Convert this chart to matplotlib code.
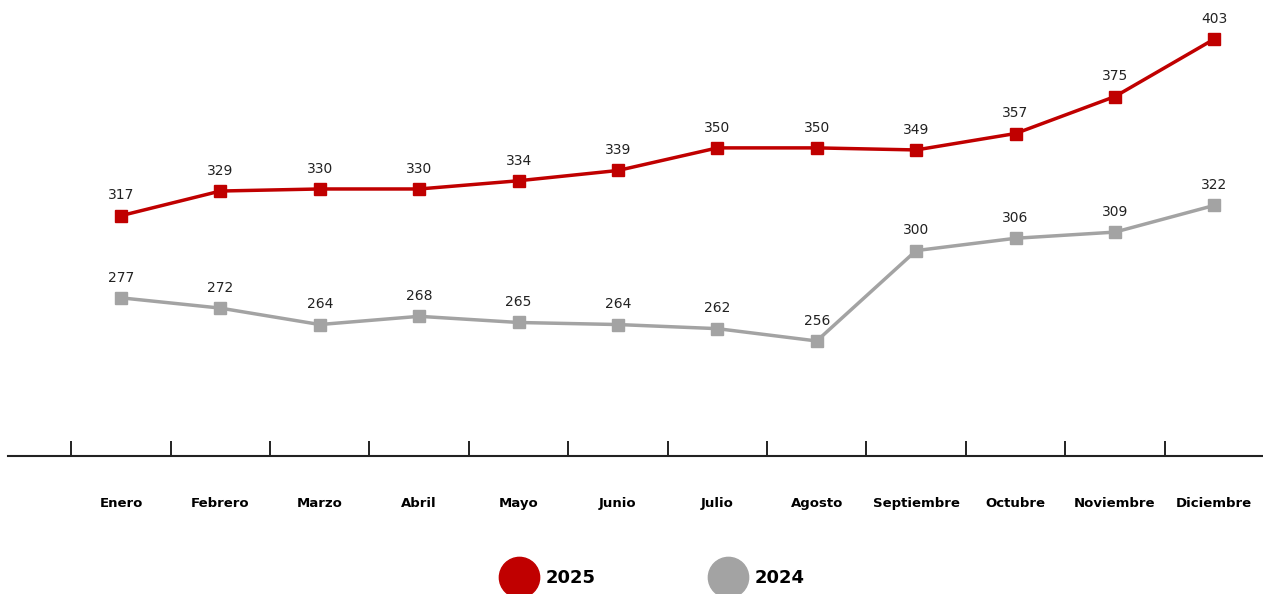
import matplotlib
matplotlib.use("Agg")
import matplotlib.pyplot as plt
from matplotlib.lines import Line2D

# ---------------------------------------------------------------------------
# Data
# ---------------------------------------------------------------------------
months = ["Enero", "Febrero", "Marzo", "Abril", "Mayo", "Junio", "Julio",
          "Agosto", "Septiembre", "Octubre", "Noviembre", "Diciembre"]
values_2025 = [317, 329, 330, 330, 334, 339, 350, 350, 349, 357, 375, 403]
values_2024 = [277, 272, 264, 268, 265, 264, 262, 256, 300, 306, 309, 322]

red = "#c00000"
gray = "#a3a3a3"

# ---------------------------------------------------------------------------
# Plot
# ---------------------------------------------------------------------------
fig = plt.figure(figsize=(12.63, 5.94), dpi=100)
ax = fig.add_axes([8 / 1263, 138 / 594, 1 - 8 / 1263, 1 - 138 / 594])

x = list(range(len(months)))
for vals, color in [(values_2025, red), (values_2024, gray)]:
    ax.plot(x, vals, color=color, linewidth=2.5, marker="s", markersize=8,
            zorder=3)
    for xi, v in zip(x, vals):
        ax.annotate(str(v), (xi, v), xytext=(0, 9.5), textcoords="offset points",
                    ha="center", va="bottom", fontsize=10, color="#222222")

ax.set_xlim(-1.137, 11.49)
ax.set_ylim(200, 422)

for s in ["top", "right", "left"]:
    ax.spines[s].set_visible(False)
ax.spines["bottom"].set_linewidth(1.5)
ax.spines["bottom"].set_color("#222222")
ax.set_yticks([])

# ticks sit between months, labels centred under each point
ax.set_xticks([i - 0.5 for i in x])
ax.set_xticklabels([])
ax.tick_params(axis="x", direction="in", length=11, width=1.4, color="#222222")
ax.set_xticks(x, minor=True)
ax.set_xticklabels(months, minor=True, fontsize=9.5, fontweight="bold")
ax.tick_params(axis="x", which="minor", length=0, pad=29.5)

handles = [
    Line2D([], [], color=red, marker="o", linestyle="none", markersize=29),
    Line2D([], [], color=gray, marker="o", linestyle="none", markersize=29),
]
fig.legend(handles, ["2025", "2024"], loc="center", bbox_to_anchor=(0.517, 0.027),
           ncol=2, frameon=False, handletextpad=0.5, columnspacing=6.3,
           prop={"size": 13, "weight": "bold"})

plt.savefig("out.png", dpi=100)
plt.close(fig)
